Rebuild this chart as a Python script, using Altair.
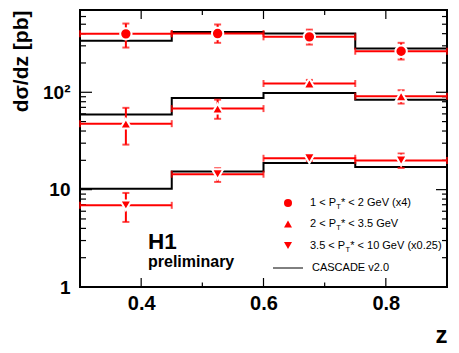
import altair as alt
import pandas as pd

# ---------------- data ----------------
z_edges = [0.3, 0.45, 0.6, 0.75, 0.9]
z_centers = [0.375, 0.525, 0.675, 0.825]
series_names = ["1 < PT* < 2 GeV (x4)", "2 < PT* < 3.5 GeV", "3.5 < PT* < 10 GeV (x0.25)"]

s1_val = [398, 401, 371, 264]
s1_lo = [288, 322, 309, 217]
s1_hi = [508, 497, 440, 322]

s2_val = [47.6, 68, 123, 91]
s2_lo = [29.0, 53.4, 112, 76.6]
s2_hi = [69.2, 84, 134, 105]

s3_val = [6.9, 14.4, 21.0, 19.9]
s3_lo = [4.66, 12.0, 19.6, 16.7]
s3_hi = [9.25, 16.6, 22.6, 23.5]

cascade_s1 = [338, 417, 401, 281]
cascade_s2 = [59, 87.5, 98.6, 84]
cascade_s3 = [10.2, 15.4, 18.8, 17.1]

x_domain = [0.3, 0.9]
y_domain = [1, 700]
y_major = [1, 10, 100]
y_minor = [2, 3, 4, 5, 6, 7, 8, 9, 20, 30, 40, 50, 60, 70, 80, 90, 200, 300, 400, 500, 600]
x_label_vals = [0.4, 0.6, 0.8]
x_minor = [0.5, 0.7]

legend_rows = [
    ("1 < P", "T", "* < 2 GeV (x4)"),
    ("2 < P", "T", "* < 3.5 GeV"),
    ("3.5 < P", "T", "* < 10 GeV (x0.25)"),
]
legend_model = "CASCADE v2.0"

# ---------------- tables ----------------
vals = [s1_val, s2_val, s3_val]
los = [s1_lo, s2_lo, s3_lo]
his = [s1_hi, s2_hi, s3_hi]
cas = [cascade_s1, cascade_s2, cascade_s3]

pts_rows, hist_rows, xcap_rows, ycap_rows = [], [], [], []
for si, name in enumerate(series_names):
    for i, zc in enumerate(z_centers):
        pts_rows.append(dict(series=name, z=zc, zlo=z_edges[i], zhi=z_edges[i + 1],
                             y=vals[si][i], ylo=los[si][i], yhi=his[si][i]))
        xcap_rows.append(dict(series=name, z=z_edges[i], y=vals[si][i]))
        xcap_rows.append(dict(series=name, z=z_edges[i + 1], y=vals[si][i]))
        ycap_rows.append(dict(series=name, z=zc, y=los[si][i]))
        ycap_rows.append(dict(series=name, z=zc, y=his[si][i]))
    steps = cas[si] + [cas[si][-1]]
    for e, v in zip(z_edges, steps):
        hist_rows.append(dict(series=name, z=e, y=v))

pts = pd.DataFrame(pts_rows)
hist = pd.DataFrame(hist_rows)
xcaps = pd.DataFrame(xcap_rows)
ycaps = pd.DataFrame(ycap_rows)
one = pd.DataFrame({"k": [0]})

# ---------------- layout ----------------
W, H = 367, 277
FONT = "Liberation Sans"
RED = "#ff0000"

xs = alt.Scale(domain=x_domain, nice=False, zero=False)
ys = alt.Scale(type="log", domain=y_domain, nice=False)

# one shared axis definition per channel, used identically by every layer
AX_X = alt.Axis(orient="bottom", values=x_label_vals, format=".1f", ticks=False, tickSize=0,
                domain=False, grid=False, labelFont=FONT, labelFontSize=20,
                labelFontWeight="bold", labelColor="black", labelPadding=6,
                title="z", titleFont=FONT, titleFontSize=24, titleFontWeight="bold",
                titleColor="black", titleX=W, titleY=55, titleAlign="right",
                titleBaseline="alphabetic")
AX_Y = alt.Axis(orient="left", values=y_major,
                labelExpr="datum.value >= 100 ? '10²' : (datum.value >= 10 ? '10' : '1')",
                ticks=False, tickSize=0, domain=False, grid=False, labelFont=FONT,
                labelFontSize=19, labelFontWeight="bold", labelColor="black",
                labelPadding=10, title="dσ/dz [pb]", titleFont=FONT, titleFontSize=21,
                titleFontWeight="bold", titleColor="black", titleAngle=270,
                titleAlign="right", titleBaseline="alphabetic", titleX=-53, titleY=0)


def X(field, **kw):
    return alt.X(field, scale=xs, axis=AX_X, **kw)


def Y(field, **kw):
    return alt.Y(field, scale=ys, axis=AX_Y, **kw)


# ---------------- inward frame ticks (placed along the axis by the scales) ----------------
def y_ticks(values, length, side):
    df = pd.DataFrame({"v": values})
    if side == "left":
        xe = dict(x=alt.value(0), x2=alt.value(length))
    else:
        xe = dict(x=alt.value(W - length), x2=alt.value(W))
    return alt.Chart(df).mark_rule(color="black", strokeWidth=1.2).encode(y=Y("v:Q"), **xe)


def x_ticks(values, length, side):
    df = pd.DataFrame({"v": values})
    if side == "bottom":
        ye = dict(y=alt.value(H - length), y2=alt.value(H))
    else:
        ye = dict(y=alt.value(0), y2=alt.value(length))
    return alt.Chart(df).mark_rule(color="black", strokeWidth=1.2).encode(x=X("v:Q"), **ye)


tick_layers = [
    y_ticks(y_major, 12, "left"), y_ticks(y_minor, 6, "left"),
    y_ticks(y_major, 11, "right"), y_ticks(y_minor, 5, "right"),
    x_ticks(x_label_vals, 9, "bottom"), x_ticks(x_minor, 4.5, "bottom"),
    x_ticks(x_label_vals, 9, "top"), x_ticks(x_minor, 5, "top"),
]

# ---------------- data layers ----------------
hist_layer = alt.Chart(hist).mark_line(interpolate="step-after", color="black", strokeWidth=2).encode(
    x=X("z:Q"), y=Y("y:Q"), detail="series:N",
)

xerr = alt.Chart(pts).mark_rule(color=RED, strokeWidth=2).encode(
    x=X("zlo:Q"), x2="zhi:Q", y=Y("y:Q"),
)

xcap = alt.Chart(xcaps).mark_tick(orient="vertical", color=RED, size=7, thickness=2).encode(
    x=X("z:Q"), y=Y("y:Q"),
)

yerr = alt.Chart(pts).mark_rule(color=RED, strokeWidth=2).encode(
    x=X("z:Q"), y=Y("ylo:Q"), y2="yhi:Q",
)

ycap = alt.Chart(ycaps).mark_tick(orient="horizontal", color=RED, size=7, thickness=2).encode(
    x=X("z:Q"), y=Y("y:Q"),
)

points = alt.Chart(pts).mark_point(filled=True, fill=RED, stroke="white", strokeWidth=2,
                                   size=130, opacity=1, fillOpacity=1, strokeOpacity=1).encode(
    x=X("z:Q"), y=Y("y:Q"),
    shape=alt.Shape("series:N", scale=alt.Scale(domain=series_names,
                                                range=["circle", "triangle-up", "triangle-down"]),
                    legend=None),
)

# ---------------- legend & annotations (pixel layout) ----------------
leg_shapes = ["circle", "triangle-up", "triangle-down"]
leg_y = [193, 214, 235.5]
leg_mx = 208
txt_x = 230
first_w = [26, 26, 35.2]

annot = []
for i, (p1, sub, p3) in enumerate(legend_rows):
    annot.append(alt.Chart(one).mark_point(shape=leg_shapes[i], filled=True, color=RED, size=64, opacity=1)
                 .encode(x=alt.value(leg_mx), y=alt.value(leg_y[i])))
    annot.append(alt.Chart(one).mark_text(font=FONT, fontSize=11, align="left", baseline="middle", color="black")
                 .encode(x=alt.value(txt_x), y=alt.value(leg_y[i]), text=alt.value(p1)))
    annot.append(alt.Chart(one).mark_text(font=FONT, fontSize=7.5, align="left", baseline="middle", color="black")
                 .encode(x=alt.value(txt_x + first_w[i] + 0.3), y=alt.value(leg_y[i] + 4), text=alt.value(sub)))
    annot.append(alt.Chart(one).mark_text(font=FONT, fontSize=11, align="left", baseline="middle", color="black")
                 .encode(x=alt.value(txt_x + first_w[i] + 5), y=alt.value(leg_y[i]), text=alt.value(p3)))

annot.append(alt.Chart(one).mark_rule(color="black", strokeWidth=1)
             .encode(x=alt.value(193), x2=alt.value(223), y=alt.value(258)))
annot.append(alt.Chart(one).mark_text(font=FONT, fontSize=11, align="left", baseline="middle", color="black")
             .encode(x=alt.value(txt_x + 2), y=alt.value(258), text=alt.value(legend_model)))

annot.append(alt.Chart(one).mark_text(font=FONT, fontSize=22.5, fontWeight="bold", align="left",
                                      baseline="alphabetic", color="black")
             .encode(x=alt.value(68), y=alt.value(239), text=alt.value("H1")))
annot.append(alt.Chart(one).mark_text(font=FONT, fontSize=16, fontWeight="bold", align="left",
                                      baseline="alphabetic", color="black")
             .encode(x=alt.value(68), y=alt.value(256.5), text=alt.value("preliminary")))

chart = alt.layer(hist_layer, *tick_layers, xerr, xcap, yerr, ycap, points, *annot).properties(
    width=W, height=H, autosize="none",
    padding={"left": 80, "top": 10, "right": 12, "bottom": 66},
    background="white",
).configure_view(stroke="black", strokeWidth=2)

chart.save("out.html", embed_options={"renderer": "svg", "actions": False})
